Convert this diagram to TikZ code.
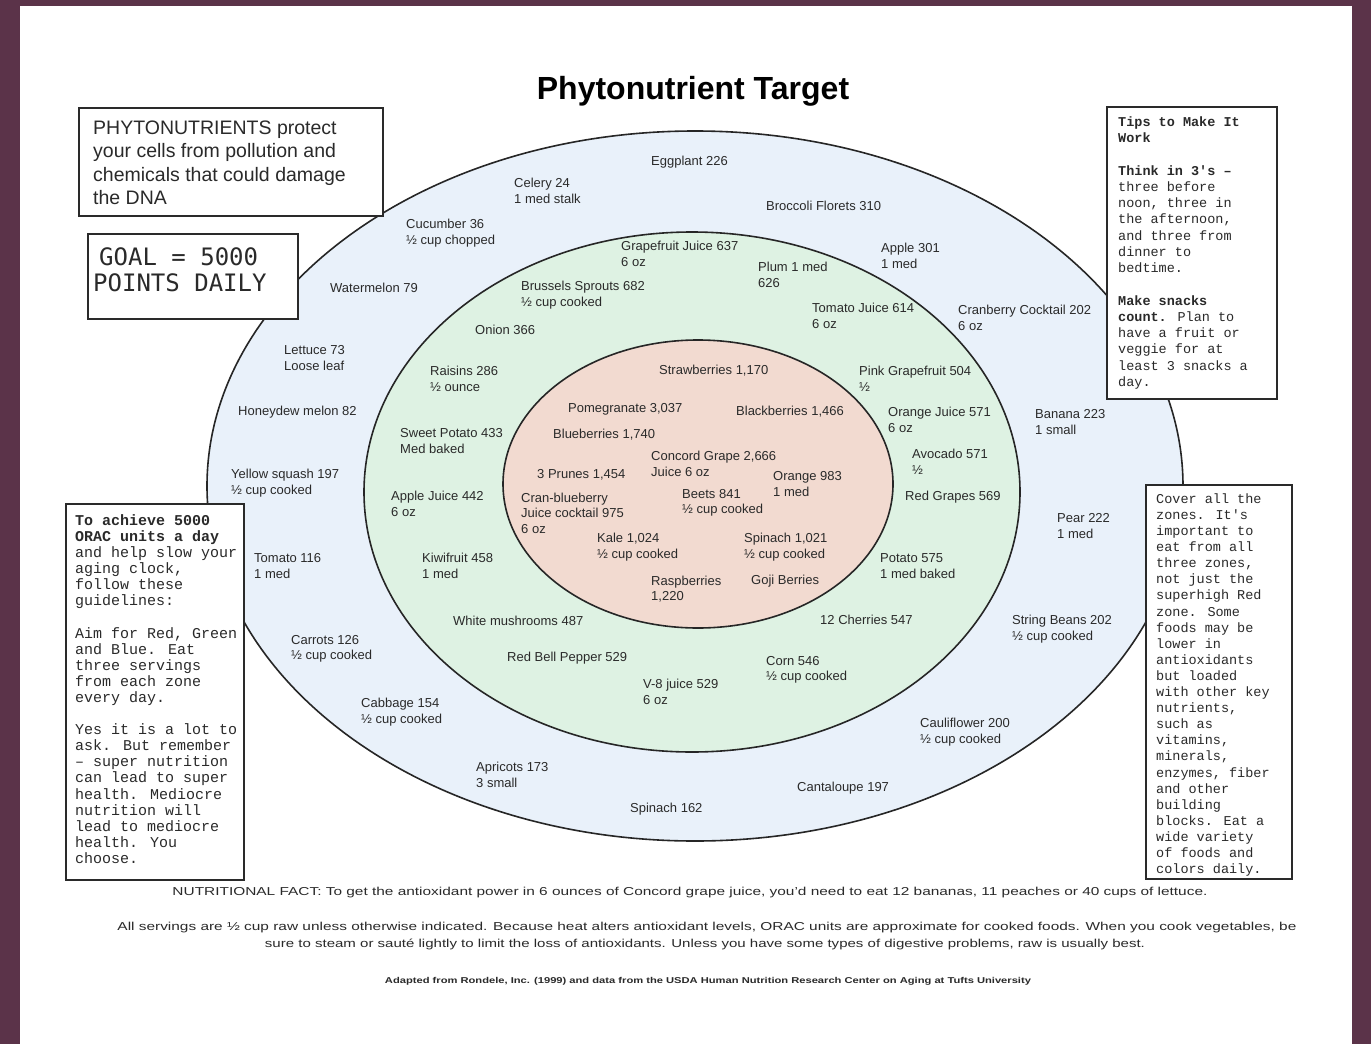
\documentclass[tikz,border=0pt]{standalone}
\usepackage{fontspec}
\usepackage{graphicx}
\setmainfont{Liberation Sans}
\newfontfamily\monofam{Liberation Mono}
\newfontfamily\goalfam{DejaVu Sans Mono}
\definecolor{frame}{HTML}{5B3349}
\definecolor{zoneblue}{HTML}{E9F1FA}
\definecolor{zonegreen}{HTML}{DEF2E3}
\definecolor{zonepink}{HTML}{F2DAD0}
\definecolor{ink}{HTML}{2A2A2A}
\begin{document}
\begin{tikzpicture}[x=1pt,y=-1pt,
  lbl/.style={anchor=west,inner sep=0pt,align=left,text=ink,font=\fontsize{13}{15.5}\selectfont},
  infobox/.style={draw=ink,line width=1.6pt,fill=white,anchor=north west,inner sep=0pt},
  boxtext/.style={anchor=west,inner sep=0pt,align=left,text=ink},
  zone/.style={draw=black!85,line width=1.6pt}]
\useasboundingbox (0,0) rectangle (1371,1044);
\fill[frame] (0,0) rectangle (1371,1044);
\fill[white] (20,6) rectangle (1352,1044);
% zones
\filldraw[zone,fill=zoneblue] (695,486) ellipse [x radius=488pt, y radius=355pt];
\filldraw[zone,fill=zonegreen] (692,492) ellipse [x radius=328pt, y radius=260pt];
\filldraw[zone,fill=zonepink] (698,484) ellipse [x radius=195pt, y radius=144pt];
% title
\node[inner sep=0pt,text=black,font=\fontsize{32}{36}\selectfont\bfseries] (title) at (693,91) {Phytonutrient Target};
% outer zone
\node[lbl] (eggplant) at (651,162) {Eggplant 226};
\node[lbl] (celery) at (514,191) {Celery 24\\1 med stalk};
\node[lbl] (broccoli) at (766,206) {Broccoli Florets 310};
\node[lbl] (cucumber) at (406,233) {Cucumber 36\\½ cup chopped};
\node[lbl] (apple) at (881,256) {Apple 301\\1 med};
\node[lbl] (watermelon) at (330,288) {Watermelon 79};
\node[lbl] (cranberry) at (958,318) {Cranberry Cocktail 202\\6 oz};
\node[lbl] (lettuce) at (284,358) {Lettuce 73\\Loose leaf};
\node[lbl] (honeydew) at (238,412) {Honeydew melon 82};
\node[lbl] (banana) at (1035,422) {Banana 223\\1 small};
\node[lbl] (ysquash) at (231,483) {Yellow squash 197\\½ cup cooked};
\node[lbl] (pear) at (1057,526) {Pear 222\\1 med};
\node[lbl] (tomato) at (254,566) {Tomato 116\\1 med};
\node[lbl] (beans) at (1012,629) {String Beans 202\\½ cup cooked};
\node[lbl] (carrots) at (291,649) {Carrots 126\\½ cup cooked};
\node[lbl] (cabbage) at (361,712) {Cabbage 154\\½ cup cooked};
\node[lbl] (cauli) at (920,732) {Cauliflower 200\\½ cup cooked};
\node[lbl] (apricots) at (476,775) {Apricots 173\\3 small};
\node[lbl] (cantaloupe) at (797,788) {Cantaloupe 197};
\node[lbl] (spinachB) at (630,809) {Spinach 162};
% middle zone
\node[lbl] (grapefruit) at (621,254) {Grapefruit Juice 637\\6 oz};
\node[lbl] (plum) at (758,275) {Plum 1 med\\626};
\node[lbl] (brussels) at (521,295) {Brussels Sprouts 682\\½ cup cooked};
\node[lbl] (tomjuice) at (812,316) {Tomato Juice 614\\6 oz};
\node[lbl] (onion) at (475,330) {Onion 366};
\node[lbl] (raisins) at (430,379) {Raisins 286\\½ ounce};
\node[lbl] (pinkgf) at (859,379) {Pink Grapefruit 504\\½};
\node[lbl] (ojuice) at (888,420) {Orange Juice 571\\6 oz};
\node[lbl] (sweetpot) at (400,441) {Sweet Potato 433\\Med baked};
\node[lbl] (avocado) at (912,462) {Avocado 571\\½};
\node[lbl] (applejuice) at (391,504) {Apple Juice 442\\6 oz};
\node[lbl] (redgrapes) at (905,497) {Red Grapes 569};
\node[lbl] (kiwi) at (422,566) {Kiwifruit 458\\1 med};
\node[lbl] (potato) at (880,566) {Potato 575\\1 med baked};
\node[lbl] (mushrooms) at (453,621) {White mushrooms 487};
\node[lbl] (cherries) at (820,620) {12 Cherries 547};
\node[lbl] (bellpepper) at (507,658) {Red Bell Pepper 529};
\node[lbl] (corn) at (766,670) {Corn 546\\½ cup cooked};
\node[lbl] (veight) at (643,692) {V-8 juice 529\\6 oz};
% inner zone
\node[lbl] (strawberries) at (659,371) {Strawberries 1,170};
\node[lbl] (pomegranate) at (568,409) {Pomegranate 3,037};
\node[lbl] (blackberries) at (736,412) {Blackberries 1,466};
\node[lbl] (blueberries) at (553,435) {Blueberries 1,740};
\node[lbl] (concord) at (651,464) {Concord Grape 2,666\\Juice 6 oz};
\node[lbl] (prunes) at (537,475) {3 Prunes 1,454};
\node[lbl] (orange) at (773,484) {Orange 983\\1 med};
\node[lbl] (cranblue) at (521,513) {Cran-blueberry\\Juice cocktail 975\\6 oz};
\node[lbl] (beets) at (682,503) {Beets 841\\½ cup cooked};
\node[lbl] (kale) at (597,547) {Kale 1,024\\½ cup cooked};
\node[lbl] (spinachR) at (744,547) {Spinach 1,021\\½ cup cooked};
\node[lbl] (raspberries) at (651,589) {Raspberries\\1,220};
\node[lbl] (goji) at (751,581) {Goji Berries};
% boxes
\node[infobox,minimum width=304pt,minimum height=108pt] (phybox) at (78,107) {};
\node[boxtext,font=\fontsize{19.5}{23.5}\selectfont] (phytext) at (93,163) {PHYTONUTRIENTS protect\\your cells from pollution and\\chemicals that could damage\\the DNA};
\node[infobox,minimum width=210pt,minimum height=85pt] (goalbox) at (87,233) {};
\node[boxtext,font=\goalfam\fontsize{24}{26}\selectfont] (goaltext) at (93,270) {\hspace*{6pt}GOAL = 5000\\POINTS DAILY};
\node[infobox,minimum width=170pt,minimum height=292pt] (tipsbox) at (1106,106) {};
\node[boxtext,font=\monofam\fontsize{13.5}{16.25}\selectfont] (tipstext) at (1118,253) {\textbf{Tips to Make It}\\\textbf{Work}\\[16.25pt]\textbf{Think in 3's –}\\three before\\noon, three in\\the afternoon,\\and three from\\dinner to\\bedtime.\\[16.25pt]\textbf{Make snacks}\\\textbf{count.}  Plan to\\have a fruit or\\veggie for at\\least 3 snacks a\\day.};
\node[infobox,minimum width=178pt,minimum height=376pt] (guidebox) at (65,503) {};
\node[boxtext,font=\monofam\fontsize{15}{16.1}\selectfont] (guidetext) at (75,689) {\textbf{To achieve 5000}\\\textbf{ORAC units a day}\\and help slow your\\aging clock,\\follow these\\guidelines:\\[16.1pt]Aim for Red, Green\\and Blue. Eat\\three servings\\from each zone\\every day.\\[16.1pt]Yes it is a lot to\\ask. But remember\\– super nutrition\\can lead to super\\health.  Mediocre\\nutrition will\\lead to mediocre\\health.  You\\choose.};
\node[infobox,minimum width=146pt,minimum height=394pt] (zonesbox) at (1145,484) {};
\node[boxtext,font=\monofam\fontsize{13.5}{16.1}\selectfont] (zonestext) at (1156,685) {Cover all the\\zones.  It's\\important to\\eat from all\\three zones,\\not just the\\superhigh Red\\zone.  Some\\foods may be\\lower in\\antioxidants\\but  loaded\\with other key\\nutrients,\\such as\\vitamins,\\minerals,\\enzymes, fiber\\and other\\building\\blocks. Eat a\\wide variety\\of foods and\\colors daily.};
% footer
\node[inner sep=0pt,text=ink,font=\fontsize{11.5}{14}\selectfont] (fact) at (690,893) {\resizebox{1035pt}{\height}{NUTRITIONAL FACT:  To get the antioxidant power in 6 ounces of Concord grape juice, you'd need to eat 12 bananas, 11 peaches or 40 cups of lettuce.}};
\node[inner sep=0pt,text=ink,font=\fontsize{11.5}{14}\selectfont] (serv1) at (707,928) {\resizebox{1179pt}{\height}{All servings are ½ cup raw unless otherwise indicated.  Because heat alters antioxidant levels, ORAC units are approximate for cooked foods.  When you cook vegetables, be}};
\node[inner sep=0pt,text=ink,font=\fontsize{11.5}{14}\selectfont] (serv2) at (705,944) {\resizebox{880pt}{\height}{sure to steam or sauté lightly to limit the loss of antioxidants.  Unless you have some types of digestive problems, raw is usually best.}};
\node[inner sep=0pt,text=ink,font=\fontsize{8.5}{10}\selectfont\bfseries] (adapted) at (708,981) {\resizebox{646pt}{\height}{Adapted from Rondele, Inc. (1999) and data from the USDA Human Nutrition Research Center on Aging at Tufts University}};
\end{tikzpicture}
\end{document}
